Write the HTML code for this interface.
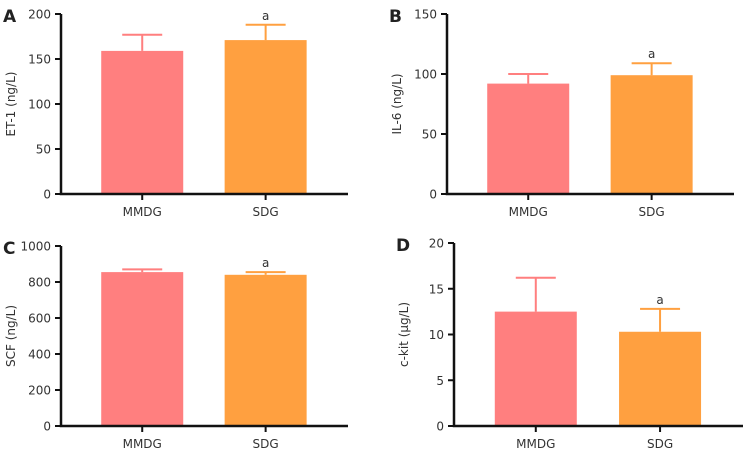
<!DOCTYPE html>
<html><head><meta charset="utf-8"><style>
body{margin:0;background:#fff;width:746px;height:449px;overflow:hidden}
svg text{font-family:"DejaVu Sans","Liberation Sans",sans-serif}
</style></head><body>
<svg id="c" width="746" height="449"></svg>
<script>
const categories=["MMDG","SDG"];
const etMeans=[159,171], etErr=[177,188], etTicks=[0,50,100,150,200];
const il6Means=[92,99], il6Err=[100,109], il6Ticks=[0,50,100,150];
const scfMeans=[855,840], scfErr=[870,855], scfTicks=[0,200,400,600,800,1000];
const ckitMeans=[12.5,10.3], ckitErr=[16.2,12.8], ckitTicks=[0,5,10,15,20];
const sig=["","a"];
const colors=["#ff7f7f","#ffa040"];
const svg=document.getElementById('c');
const NS="http://www.w3.org/2000/svg";
function mk(t,a,p){const e=document.createElementNS(NS,t);for(const k in a)e.setAttribute(k,a[k]);(p||svg).appendChild(e);return e;}
function panel(letter,title,means,errs,ticks,ax,top,bot,xend,name){
  const g=mk('g',{});
  
  
  const max=ticks[ticks.length-1];
  const y=v=>bot-(v/max)*(bot-top);
  const bw=82, gap=(xend-ax);
  const cx=i=>ax+gap*(0.283+i*0.43);
  const L=mk('text',{x:ax-58,y:top+8,'font-size':17,'font-weight':'bold',fill:'#222'},g);L.textContent=letter;
  
  
  means.forEach((m,i)=>{
    const c=cx(i);
    const r=mk('rect',{x:c-bw/2,y:y(m),width:bw,height:bot-y(m),fill:colors[i]},g);
    
    
    const e=mk('path',{d:`M${c} ${y(m)}V${y(errs[i])}M${c-20} ${y(errs[i])}H${c+20}`,stroke:colors[i],'stroke-width':2,fill:'none'},g);
    
    
    if(sig[i]){const s=mk('text',{x:c,y:y(errs[i])-5,'text-anchor':'middle','font-size':12,fill:'#333'},g);s.textContent=sig[i];
      
      }
    mk('line',{x1:c,x2:c,y1:bot,y2:bot+6,stroke:'#111','stroke-width':2},g);
    const t=mk('text',{x:c,y:bot+22,'text-anchor':'middle','font-size':12,fill:'#333'},g);t.textContent=categories[i];
    
    
  });
  ticks.forEach(v=>{
    mk('line',{x1:ax-6,x2:ax,y1:y(v),y2:y(v),stroke:'#111','stroke-width':2},g);
    const t=mk('text',{x:ax-10,y:y(v)+4.5,'text-anchor':'end','font-size':12,fill:'#333'},g);t.textContent=v;
    
    
  });
  mk('path',{d:`M${ax} ${top}V${bot}H${xend}`,stroke:'#111','stroke-width':2.5,fill:'none'},g);
  const yt=mk('text',{transform:`translate(${ax-46},${(top+bot)/2}) rotate(-90)`,'text-anchor':'middle','font-size':12,fill:'#333'},g);yt.textContent=title;
  
  
}
panel('A','ET-1 (ng/L)',etMeans,etErr,etTicks,61,14,194,348,'panel-a-et1');
panel('B','IL-6 (ng/L)',il6Means,il6Err,il6Ticks,447,14,194,734,'panel-b-il6');
panel('C','SCF (ng/L)',scfMeans,scfErr,scfTicks,61,246,426,348,'panel-c-scf');
panel('D','c-kit (μg/L)',ckitMeans,ckitErr,ckitTicks,454,243,426,743,'panel-d-ckit');
</script>
</body></html>
